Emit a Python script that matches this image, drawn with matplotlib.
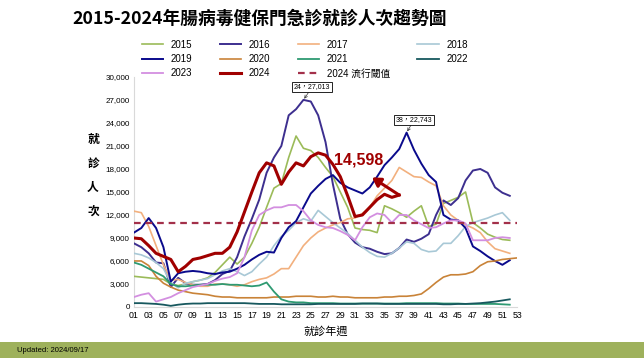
import numpy as np
import matplotlib
matplotlib.use('Agg')
import matplotlib.pyplot as plt
from matplotlib.patches import Rectangle
from matplotlib.ticker import FuncFormatter

plt.rcParams['font.family'] = ['Liberation Sans', 'Noto Sans CJK TC']

# weekly outpatient/ER visits for enterovirus
y2015 = [4000, 3900, 3800, 3700, 3600, 3000, 2800, 3000, 3300, 3500, 3800, 4500, 5500, 6500,
         5600, 6500, 8300, 10400, 13000, 15500, 16100, 19500, 22300, 20700, 20400, 19500,
         18200, 17000, 15000, 13000, 10300, 10100, 10000, 9700, 13200, 12800, 12300, 11700,
         12500, 13200, 10500, 10800, 13500, 13900, 14300, 15000, 11000, 10300, 9500, 9100,
         8800, 8700]
y2016 = [8300, 7800, 7000, 5800, 5700, 2600, 3800, 3100, 2900, 2900, 3000, 3500, 4300, 4700,
         6500, 9200, 11500, 14000, 17500, 19500, 21000, 25000, 25800, 27013, 26800, 25000,
         21500, 16000, 11500, 9500, 8400, 7800, 7600, 7200, 6900, 7000, 7700, 8800, 8500,
         8900, 9500, 12000, 13900, 13300, 14200, 16500, 17800, 18000, 17500, 15600, 14900,
         14500]
y2017 = [12500, 12300, 10500, 8000, 5500, 3500, 3600, 3200, 2900, 2700, 2700, 3000, 3000,
         2900, 2700, 2900, 3300, 3600, 3800, 4300, 5000, 5000, 6500, 8000, 9000, 9800, 10300,
         10700, 11000, 11500, 11600, 12200, 13000, 14500, 15500, 16500, 18200, 17600, 17000,
         16900, 16300, 15800, 13200, 12000, 11300, 10700, 10300, 9700, 8500, 7600, 7300, 7000]
y2018 = [7000, 6800, 6400, 5800, 5000, 3200, 2500, 3100, 3300, 3500, 3700, 4200, 4700, 5000,
         4600, 4100, 4600, 5600, 6500, 8000, 9200, 10000, 11000, 11500, 11200, 12600, 11800,
         11000, 10300, 9600, 8700, 7800, 7100, 6600, 6500, 7000, 7700, 8500, 8300, 7500, 7200,
         7300, 8300, 8300, 9300, 10500, 11000, 11300, 11600, 12000, 12300, 11300]
y2019 = [9700, 10300, 11600, 10300, 7800, 3300, 4400, 4600, 4700, 4600, 4400, 4300, 4500,
         4600, 5000, 5500, 6200, 6800, 7200, 7100, 9000, 10400, 11200, 13000, 14800, 15800,
         16700, 17200, 16200, 15600, 15200, 14800, 15600, 17000, 18500, 19500, 20600, 22743,
         20500, 18700, 17200, 16300, 12000, 11400, 11300, 10300, 7900, 7300, 6600, 6000,
         5500, 6100]
y2020 = [6000, 6000, 5400, 4000, 3100, 2600, 2200, 2000, 1800, 1700, 1600, 1400, 1300, 1300,
         1200, 1200, 1200, 1200, 1200, 1300, 1300, 1300, 1400, 1400, 1400, 1300, 1300, 1400,
         1300, 1300, 1200, 1200, 1200, 1200, 1300, 1300, 1400, 1400, 1500, 1700, 2400, 3200,
         3900, 4200, 4200, 4300, 4600, 5400, 5900, 6000, 6200, 6300, 6400]
y2021 = [5800, 5500, 5000, 4500, 4000, 3000, 2700, 2700, 2800, 2900, 2900, 2900, 3000, 2900,
         2900, 2800, 2700, 2800, 3200, 2000, 1000, 700, 600, 600, 500, 500, 500, 500, 450, 450,
         450, 450, 450, 450, 450, 450, 450, 500, 500, 500, 500, 500, 450, 450, 450, 400, 400,
         400, 400, 400, 350, 300]
y2022 = [500, 500, 450, 400, 300, 150, 300, 400, 450, 450, 500, 500, 500, 500, 500, 500, 450,
         400, 400, 400, 350, 350, 350, 350, 350, 400, 400, 400, 400, 400, 400, 450, 450, 450,
         400, 400, 400, 400, 400, 400, 400, 400, 350, 350, 400, 400, 450, 500, 600, 700, 850,
         1000]
y2023 = [1300, 1600, 1800, 700, 1000, 1300, 1800, 2200, 2600, 2800, 3000, 3400, 3700, 3900,
         4400, 6500, 10000, 12000, 12600, 13000, 13000, 13300, 13300, 12500, 11300, 10700,
         10400, 10300, 9900, 9400, 8700, 10400, 11700, 12200, 12000, 11000, 12000, 12000,
         11300, 10800, 10300, 10400, 10900, 11300, 11300, 10900, 8700, 8700, 8700, 9000, 9100,
         9000]
y2024 = [9000, 8900, 8000, 7000, 6600, 6200, 4600, 5300, 6200, 6400, 6700, 7000, 7000, 7800,
         9800, 12400, 15000, 17500, 18800, 18400, 16000, 17600, 18800, 18400, 19600, 20100,
         19800, 18600, 17000, 14500, 11800, 12000, 13000, 14000, 14700, 14300, 14598]
threshold_2024 = 11000

years = ['2015', '2016', '2017', '2018', '2019', '2020', '2021', '2022', '2023', '2024']
series = [y2015, y2016, y2017, y2018, y2019, y2020, y2021, y2022, y2023, y2024]
colors = ['#9BBB59', '#3D2F8F', '#F2B07E', '#A8C8D6', '#0A0A8C', '#C98338', '#2E9A72',
          '#17585E', '#D38FE0', '#A00000']
widths = [1.2, 1.4, 1.2, 1.2, 1.4, 1.2, 1.3, 1.3, 1.3, 2.2]
xticks = list(range(1, 54, 2))

fig = plt.figure(figsize=(6.44, 3.58), dpi=100)
ax = fig.add_axes([0.208, 0.1425, 0.595, 0.6425])

lines = {}
for yr, vals, c, lw in zip(years, series, colors, widths):
    wk = np.arange(1, len(vals) + 1)
    lines[yr], = ax.plot(wk, vals, color=c, lw=lw, label=yr, zorder=3 if yr != '2024' else 5)
thr = ax.axhline(threshold_2024, xmin=0, xmax=1, color='#A3304A', lw=1.6, ls=(0, (3, 2.2)),
                 label='2024 流行閾值', zorder=4)

ax.set_xlim(1, 53)
ax.set_ylim(0, 30000)
ax.set_xticks(xticks)
ax.set_xticklabels([f'{w:02d}' for w in xticks], fontsize=6.3)
ax.set_yticks(range(0, 30001, 3000))
ax.yaxis.set_major_formatter(FuncFormatter(lambda v, p: f'{int(v):,}'))
ax.tick_params(axis='y', labelsize=5.8, length=0, pad=3)
ax.tick_params(axis='x', length=0, pad=3)
for s in ['top', 'right']:
    ax.spines[s].set_visible(False)
for s in ['left', 'bottom']:
    ax.spines[s].set_color('#D9D9D9')
    ax.spines[s].set_linewidth(0.8)

# peak callouts
box = dict(boxstyle='square,pad=0.25', fc='white', ec='black', lw=0.6)
ax.annotate('24，27,013', xy=(24, 27013), xytext=(25.2, 28700), fontsize=5,
            family=['Liberation Sans', 'Noto Sans CJK TC'], ha='center', va='center', bbox=box,
            arrowprops=dict(arrowstyle='->', lw=0.5, color='#333333', shrinkA=0, shrinkB=1))
ax.annotate('38，22,743', xy=(38, 22743), xytext=(39.0, 24400), fontsize=5,
            family=['Liberation Sans', 'Noto Sans CJK TC'], ha='center', va='center', bbox=box,
            arrowprops=dict(arrowstyle='->', lw=0.5, color='#333333', shrinkA=0, shrinkB=1))

# latest 2024 value
last_wk = len(y2024)
ax.text(31.5, 19200, f'{y2024[-1]:,}', fontsize=11.5, fontweight='bold', color='#A00000',
        ha='center', va='center')
ax.annotate('', xy=(33.3, 16900), xytext=(last_wk, y2024[-1]),
            arrowprops=dict(arrowstyle='-|>,head_length=0.5,head_width=0.3', lw=2.2,
                            color='#A00000', shrinkA=0, shrinkB=0), zorder=6)

ax.set_xlabel('就診年週', fontsize=8, family=['Noto Sans CJK TC'], labelpad=4)

for i, ch in enumerate('就診人次'):
    fig.text(93 / 644, 1 - (139 + i * 24) / 358, ch, fontsize=8.5, fontweight='bold',
             family=['Noto Sans CJK TC'], ha='center', va='center')

fig.text(260 / 644, 1 - 19 / 358, '2015-2024年腸病毒健保門急診就診人次趨勢圖', fontsize=12.8,
         fontweight='bold', family=['Noto Sans CJK TC'], ha='center', va='center')

order = ['2015', '2019', '2023', '2016', '2020', '2024', '2017', '2021', None, '2018', '2022']
handles = [lines[k] if k else thr for k in order]
labels = [h.get_label() for h in handles]
fig.legend(handles, labels, ncol=4, loc='upper left', bbox_to_anchor=(133 / 644, 1 - 31 / 358),
           frameon=False, handlelength=2.2, handletextpad=0.8, columnspacing=2.8,
           labelspacing=0.45, prop={'family': ['Liberation Sans', 'Noto Sans CJK TC'], 'size': 7})

# footer band
fig.patches.append(Rectangle((0, 0), 1, 16 / 358, transform=fig.transFigure,
                             facecolor='#9EB15C', edgecolor='none', zorder=0))
fig.text(17 / 644, 8 / 358, 'Updated: 2024/09/17', fontsize=5.5, ha='left', va='center')

fig.savefig('out.png', dpi=100)
